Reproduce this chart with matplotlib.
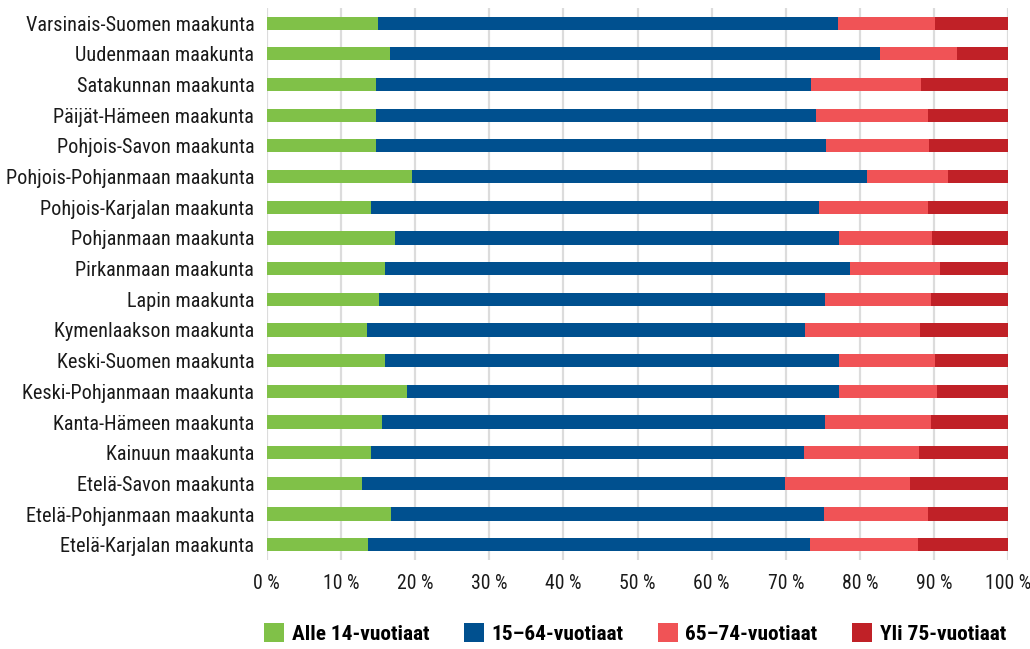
import matplotlib
matplotlib.use('Agg')
import matplotlib.pyplot as plt
from matplotlib.patches import Patch
from matplotlib.ticker import FuncFormatter

plt.rcParams['font.family'] = ['Roboto Condensed', 'DejaVu Sans']

regions = ['Varsinais-Suomen maakunta', 'Uudenmaan maakunta', 'Satakunnan maakunta',
           'Päijät-Hämeen maakunta', 'Pohjois-Savon maakunta', 'Pohjois-Pohjanmaan maakunta',
           'Pohjois-Karjalan maakunta', 'Pohjanmaan maakunta', 'Pirkanmaan maakunta',
           'Lapin maakunta', 'Kymenlaakson maakunta', 'Keski-Suomen maakunta',
           'Keski-Pohjanmaan maakunta', 'Kanta-Hämeen maakunta', 'Kainuun maakunta',
           'Etelä-Savon maakunta', 'Etelä-Pohjanmaan maakunta', 'Etelä-Karjalan maakunta']

# osuudet prosentteina
alle14 = [15.0, 16.6, 14.7, 14.7, 14.7, 19.6, 14.1, 17.3, 16.0,
          15.2, 13.5, 16.0, 18.9, 15.6, 14.1, 12.9, 16.8, 13.7]
v15_64 = [62.0, 66.1, 58.7, 59.4, 60.7, 61.4, 60.3, 59.9, 62.7,
          60.1, 59.1, 61.2, 58.3, 59.7, 58.4, 57.0, 58.4, 59.6]
v65_74 = [13.1, 10.4, 14.8, 15.1, 13.9, 10.9, 14.8, 12.5, 12.1,
          14.2, 15.5, 12.9, 13.2, 14.2, 15.4, 16.8, 14.0, 14.5]
yli75 = [9.9, 6.9, 11.8, 10.8, 10.7, 8.1, 10.8, 10.3, 9.2,
         10.5, 11.9, 9.9, 9.6, 10.5, 12.1, 13.3, 10.8, 12.2]

series = [alle14, v15_64, v65_74, yli75]
labels = ['Alle 14-vuotiaat', '15\u201364-vuotiaat', '65\u201374-vuotiaat', 'Yli 75-vuotiaat']
colors = ['#80c148', '#00508f', '#f05356', '#c02127']

fig = plt.figure(figsize=(10.3, 6.49), dpi=100)
ax = fig.add_axes([0.259, 0.137, 0.72, 0.851])

ypos = list(range(len(regions)))
left = [0.0] * len(regions)
for vals, col in zip(series, colors):
    ax.barh(ypos, vals, left=left, height=0.43, color=col, zorder=3)
    left = [l + v for l, v in zip(left, vals)]

ax.set_xlim(0, 100)
ax.set_ylim(len(regions) - 0.5, -0.5)
ax.set_xticks(range(0, 101, 10))
ax.xaxis.set_major_formatter(FuncFormatter(lambda v, p: '%d %%' % v))
ax.set_yticks(ypos)
ax.set_yticklabels(regions)
ax.tick_params(axis='both', length=0, colors='#1a1a1a')
ax.tick_params(axis='y', pad=9, labelsize=14.6)
ax.tick_params(axis='x', pad=10, labelsize=14.2)
ax.grid(axis='x', color='#dcdcdc', linewidth=1.6, zorder=0)
for s in ax.spines.values():
    s.set_visible(False)

handles = [Patch(facecolor=c, label=l) for c, l in zip(colors, labels)]
fig.legend(handles=handles, loc='lower center', bbox_to_anchor=(0.6165, -0.022), ncol=4,
           frameon=False, handlelength=0.95, handleheight=0.95, handletextpad=0.35,
           columnspacing=1.6, prop={'size': 15.4, 'weight': 'bold'})

plt.savefig('out.png', dpi=100)
